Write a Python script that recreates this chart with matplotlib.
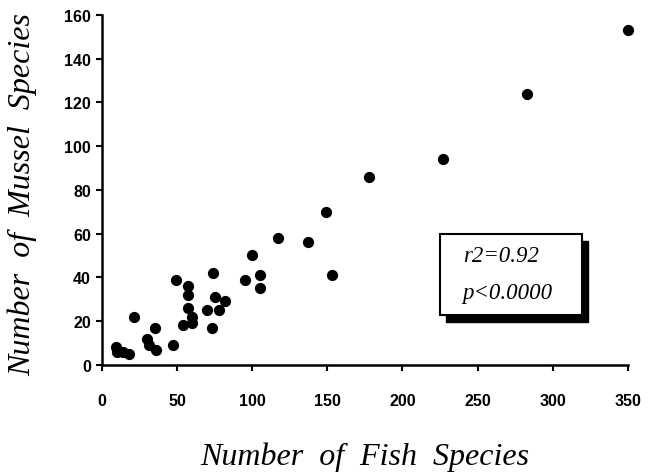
import matplotlib.pyplot as plt
from matplotlib.patches import Rectangle

# number of fish species vs number of mussel species
fishSpecies = [9, 10, 14, 18, 21, 30, 31, 35, 36, 47,
               49, 54, 57, 57, 57, 60, 60, 70, 73, 74,
               75, 78, 82, 95, 100, 105, 105, 117, 137, 149,
               153, 178, 227, 283, 350]
musselSpecies = [8, 6, 6, 5, 22, 12, 9, 17, 7, 9,
                 39, 18, 36, 32, 26, 22, 19, 25, 17, 42,
                 31, 25, 29, 39, 50, 41, 35, 58, 56, 70,
                 41, 86, 94, 124, 153]
xTicks = [0, 50, 100, 150, 200, 250, 300, 350]
yTicks = [0, 20, 40, 60, 80, 100, 120, 140, 160]
statsLines = ['r2=0.92', 'p<0.0000']

fig = plt.figure(figsize=(6.58, 4.77), dpi=100)
ax = fig.add_axes([0.155, 0.233, 0.799, 0.734])

ax.scatter(fishSpecies, musselSpecies, s=50, color='black', zorder=3, clip_on=False)

ax.set_xlim(0, 350)
ax.set_ylim(0, 160)
ax.set_xticks(xTicks)
ax.set_yticks(yTicks)

for side in ['top', 'right']:
    ax.spines[side].set_visible(False)
for side in ['left', 'bottom']:
    ax.spines[side].set_linewidth(1.8)

tickFont = {'family': 'Liberation Sans', 'weight': 'bold', 'size': 11.5}
ax.set_xticklabels([str(t) for t in xTicks], fontdict=tickFont)
ax.set_yticklabels([str(t) for t in yTicks], fontdict=tickFont)
ax.tick_params(axis='x', direction='out', length=4, width=1.5, pad=16)
ax.tick_params(axis='y', direction='out', length=4, width=1.5, pad=4)

labelFont = {'family': 'Liberation Serif', 'style': 'italic', 'size': 23}
ax.set_xlabel('Number  of  Fish  Species', fontdict=labelFont)
ax.set_ylabel('Number  of  Mussel  Species', fontdict=labelFont)
ax.xaxis.set_label_coords(0.5, -0.26)
ax.xaxis.label.set_va('center')
ax.yaxis.set_label_coords(-0.152, 0.49)
ax.yaxis.label.set_va('center')

# stats box with drop shadow
boxX, boxY, boxW, boxH = 0.643, 0.142, 0.27, 0.233
shadow = Rectangle((boxX + 0.012, boxY - 0.02), boxW, boxH, transform=ax.transAxes,
                   facecolor='black', edgecolor='black', zorder=4, clip_on=False)
box = Rectangle((boxX, boxY), boxW, boxH, transform=ax.transAxes,
                facecolor='white', edgecolor='black', linewidth=1.5, zorder=5, clip_on=False)
ax.add_patch(shadow)
ax.add_patch(box)
statsFont = {'family': 'Liberation Serif', 'style': 'italic', 'size': 16.5}
ax.text(boxX + 0.043, boxY + 0.17, statsLines[0], transform=ax.transAxes,
        va='center', ha='left', fontdict=statsFont, zorder=6)
ax.text(boxX + 0.043, boxY + 0.065, statsLines[1], transform=ax.transAxes,
        va='center', ha='left', fontdict=statsFont, zorder=6)

fig.savefig('out.png', dpi=100)
